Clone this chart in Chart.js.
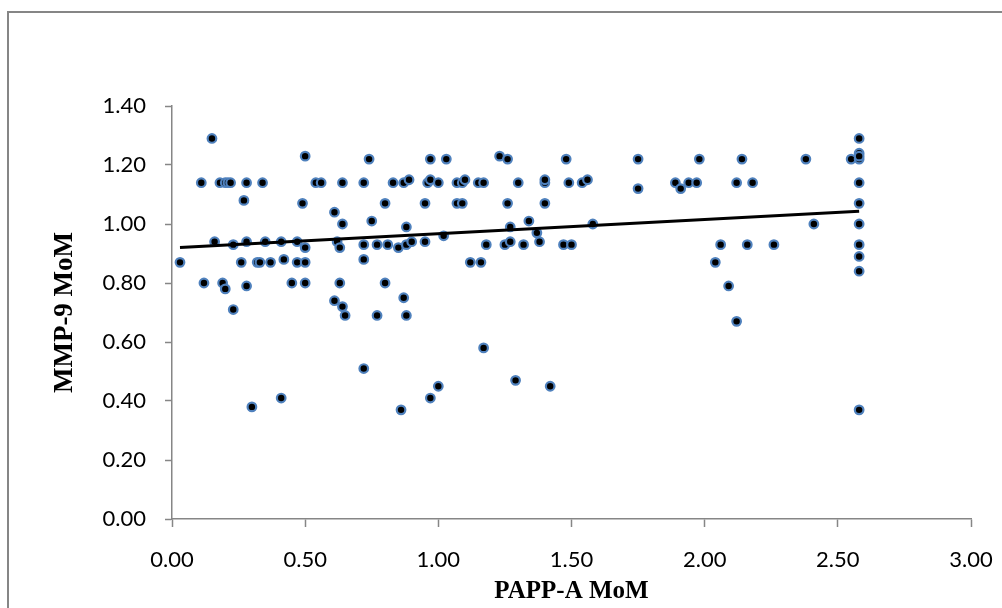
<!DOCTYPE html>
<html>
<head>
<meta charset="utf-8">
<script src="https://cdn.jsdelivr.net/npm/chart.js@4.4.1/dist/chart.umd.min.js"></script>
<style>
  html, body { margin: 0; padding: 0; background: #ffffff; }
  #grafico { display: block; }
</style>
</head>
<body>
<canvas id="grafico" width="1002" height="608"></canvas>
<script>
// Datos (PAPP-A MoM vs MMP-9 MoM)
const pappA = [
  0.03, 0.15, 0.11, 0.12, 0.16, 0.18, 0.20, 0.21, 0.22, 0.19,
  0.20, 0.23, 0.23, 0.27, 0.26, 0.28, 0.28, 0.28, 0.32, 0.33,
  0.34, 0.35, 0.37, 0.41, 0.42, 0.45, 0.47, 0.47, 0.49, 0.50,
  0.50, 0.50, 0.50, 0.54, 0.56, 0.61, 0.62, 0.64, 0.64, 0.63,
  0.63, 0.61, 0.64, 0.65, 0.72, 0.72, 0.72, 0.74, 0.75, 0.77,
  0.77, 0.80, 0.81, 0.80, 0.83, 0.87, 0.89, 0.85, 0.88, 0.88,
  0.90, 0.87, 0.88, 0.95, 0.96, 0.97, 1.00, 0.97, 0.95, 0.30,
  0.41, 0.72, 0.86, 0.97, 1.00, 1.03, 1.02, 1.07, 1.09, 1.10,
  1.07, 1.09, 1.15, 1.17, 1.12, 1.16, 1.18, 1.23, 1.26, 1.26,
  1.30, 1.27, 1.25, 1.27, 1.32, 1.34, 1.37, 1.38, 1.40, 1.40,
  1.40, 1.47, 1.50, 1.48, 1.49, 1.54, 1.56, 1.58, 1.75, 1.75,
  1.89, 1.91, 1.94, 1.97, 1.98, 2.04, 2.06, 1.17, 1.29, 1.42,
  2.14, 2.38, 2.55, 2.58, 2.58, 2.58, 2.58, 2.58, 2.58, 2.58,
  2.58, 2.58, 2.58, 2.58, 2.12, 2.18, 2.41, 2.16, 2.26, 2.09,
  2.12
];
const mmp9 = [
  0.87, 1.29, 1.14, 0.80, 0.94, 1.14, 1.14, 1.14, 1.14, 0.80,
  0.78, 0.71, 0.93, 1.08, 0.87, 1.14, 0.94, 0.79, 0.87, 0.87,
  1.14, 0.94, 0.87, 0.94, 0.88, 0.80, 0.94, 0.87, 1.07, 1.23,
  0.92, 0.87, 0.80, 1.14, 1.14, 1.04, 0.94, 1.14, 1.00, 0.92,
  0.80, 0.74, 0.72, 0.69, 1.14, 0.93, 0.88, 1.22, 1.01, 0.93,
  0.69, 1.07, 0.93, 0.80, 1.14, 1.14, 1.15, 0.92, 0.99, 0.93,
  0.94, 0.75, 0.69, 1.07, 1.14, 1.15, 1.14, 1.22, 0.94, 0.38,
  0.41, 0.51, 0.37, 0.41, 0.45, 1.22, 0.96, 1.14, 1.14, 1.15,
  1.07, 1.07, 1.14, 1.14, 0.87, 0.87, 0.93, 1.23, 1.22, 1.07,
  1.14, 0.99, 0.93, 0.94, 0.93, 1.01, 0.97, 0.94, 1.14, 1.15,
  1.07, 0.93, 0.93, 1.22, 1.14, 1.14, 1.15, 1.00, 1.22, 1.12,
  1.14, 1.12, 1.14, 1.14, 1.22, 0.87, 0.93, 0.58, 0.47, 0.45,
  1.22, 1.22, 1.22, 1.29, 1.24, 1.22, 1.23, 1.14, 1.07, 1.00,
  0.93, 0.89, 0.84, 0.37, 1.14, 1.14, 1.00, 0.93, 0.93, 0.79,
  0.67
];

// Linea de tendencia (extremos)
const tendenciaX = [0.03, 2.58];
const tendenciaY = [0.92, 1.043];

const xTicks = [0, 0.5, 1, 1.5, 2, 2.5, 3];
const yTicks = [0, 0.2, 0.4, 0.6, 0.8, 1.0, 1.2, 1.4];

const puntos = pappA.map((x, i) => ({ x: x, y: mmp9[i] }));
const tendencia = tendenciaX.map((x, i) => ({ x: x, y: tendenciaY[i] }));

const gris = '#868686';

// Marco exterior y fondo
const marco = {
  id: 'marco',
  beforeDraw(chart) {
    const ctx = chart.ctx;
    ctx.save();
    ctx.fillStyle = '#ffffff';
    ctx.fillRect(0, 0, chart.width, chart.height);
    ctx.strokeStyle = gris;
    ctx.lineWidth = 2;
    ctx.strokeRect(8, 12, 1100, 700);
    ctx.restore();
  }
};

const ctx = document.getElementById('grafico').getContext('2d');
const grafico = new Chart(ctx, {
  type: 'scatter',
  data: {
    datasets: [{
      type: 'line',
      data: tendencia,
      borderColor: '#000000',
      borderWidth: 3,
      pointRadius: 0,
      showLine: true,
      fill: false,
      order: 0
    }, {
      data: puntos,
      backgroundColor: '#000000',
      borderColor: '#4F81BD',
      borderWidth: 2.2,
      pointRadius: 4.3,
      order: 1
    }]
  },
  options: {
    responsive: false,
    animation: false,
    layout: { padding: { left: 52, top: 106, right: 31, bottom: 4 } },
    plugins: {
      legend: { display: false },
      tooltip: { enabled: false }
    },
    scales: {
      x: {
        type: 'linear',
        min: 0, max: 3,
        afterFit: (s) => { s.height = 85; s.paddingRight = 0; s.paddingLeft = 0; },
        afterBuildTicks: (s) => { s.ticks = xTicks.map(v => ({ value: v })); },
        ticks: {
          callback: v => v.toFixed(2),
          color: '#000000',
          padding: 22,
          maxRotation: 0,
          font: { family: 'Lato', size: 22, lineHeight: 1 }
        },
        grid: { drawOnChartArea: false, drawTicks: true, tickLength: 8, tickColor: gris, tickWidth: 1.5 },
        border: { display: true, color: gris, width: 1.5 },
        title: {
          display: true,
          text: 'PAPP-A MoM',
          color: '#000000',
          padding: { top: 0, bottom: 0 },
          font: { family: 'Liberation Serif', size: 25, weight: 'bold', lineHeight: 1 }
        }
      },
      y: {
        type: 'linear',
        min: 0, max: 1.4,
        afterFit: (s) => { s.width = 120; },
        afterBuildTicks: (s) => { s.ticks = yTicks.map(v => ({ value: v })); },
        ticks: {
          callback: v => v.toFixed(2),
          color: '#000000',
          padding: 19,
          font: { family: 'Lato', size: 22, lineHeight: 1 }
        },
        grid: { drawOnChartArea: false, drawTicks: true, tickLength: 7, tickColor: gris, tickWidth: 1.5 },
        border: { display: true, color: gris, width: 1.5 },
        title: {
          display: true,
          text: 'MMP-9 MoM',
          color: '#000000',
          padding: { top: 0, bottom: 0 },
          font: { family: 'Liberation Serif', size: 27, weight: 'bold', lineHeight: 1 }
        }
      }
    }
  },
  plugins: [marco]
});
</script>
</body>
</html>
